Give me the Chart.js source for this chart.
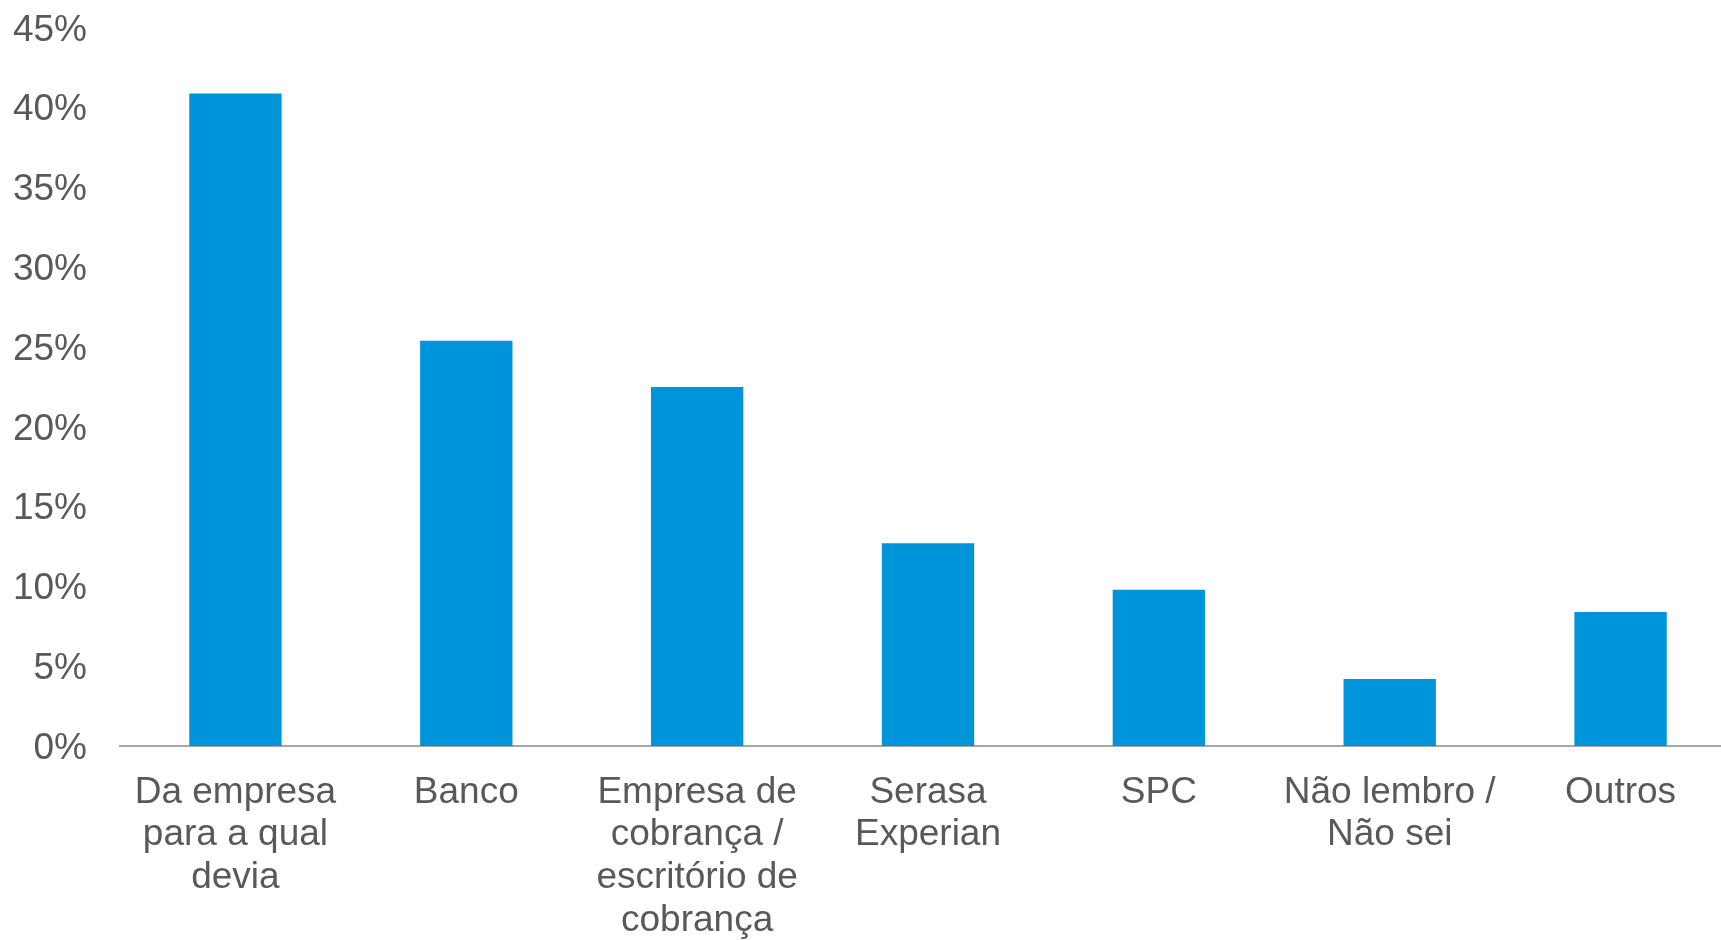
<!DOCTYPE html>
<html>
<head>
<meta charset="utf-8">
<script src="https://cdn.jsdelivr.net/npm/chart.js@4/dist/chart.umd.min.js"></script>
<style>
  html, body { margin: 0; padding: 0; background: #ffffff; overflow: hidden; }
  #wrap { width: 1736px; height: 940px; }
</style>
</head>
<body>
<div id="wrap"><canvas id="c" width="1736" height="940"></canvas></div>
<script>
const categories = [
  ["Da empresa", "para a qual", "devia"],
  ["Banco"],
  ["Empresa de", "cobrança /", "escritório de", "cobrança"],
  ["Serasa", "Experian"],
  ["SPC"],
  ["Não lembro /", "Não sei"],
  ["Outros"]
];
const values = [40.9, 25.4, 22.5, 12.7, 9.8, 4.2, 8.4];
const yTickMin = 0;
const yTickMax = 45;
const yTickStep = 5;

const textColor = '#595959';
const fontFamily = '"Liberation Sans", Arial, Helvetica, sans-serif';

new Chart(document.getElementById('c'), {
  type: 'bar',
  data: {
    labels: categories,
    datasets: [{
      data: values,
      backgroundColor: '#0094DA',
      borderWidth: 0,
      barPercentage: 0.4,
      categoryPercentage: 1.0
    }]
  },
  options: {
    responsive: false,
    animation: false,
    layout: { padding: { top: 28, right: 0, bottom: 0, left: 0 } },
    plugins: { legend: { display: false }, tooltip: { enabled: false }, title: { display: false } },
    scales: {
      x: {
        grid: { display: false, drawTicks: false },
        border: { display: true, color: '#a6a6a6', width: 2 },
        ticks: {
          color: textColor,
          font: { family: fontFamily, size: 37, lineHeight: 1.157 },
          padding: 25,
          maxRotation: 0,
          minRotation: 0,
          autoSkip: false
        },
        afterFit: s => { s.height = 194; }
      },
      y: {
        min: yTickMin,
        max: yTickMax,
        grid: { display: false, drawTicks: false },
        border: { display: false },
        ticks: {
          stepSize: yTickStep,
          color: textColor,
          font: { family: fontFamily, size: 37 },
          padding: 33,
          labelOffset: 2.5,
          callback: v => v + '%'
        },
        afterFit: s => { s.width = 120; s.paddingTop = 0; s.paddingBottom = 0; }
      }
    }
  }
});
</script>
</body>
</html>
